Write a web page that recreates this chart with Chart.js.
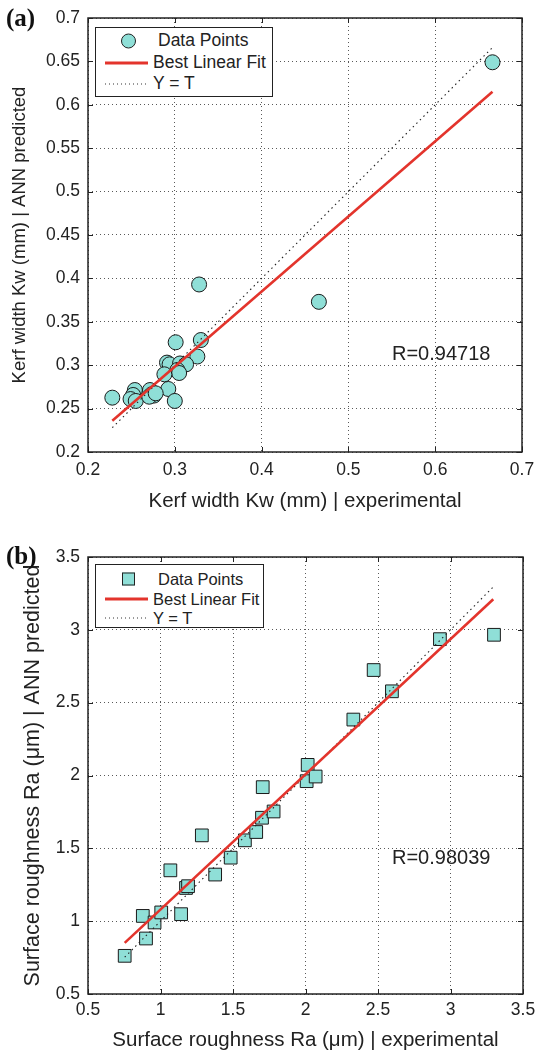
<!DOCTYPE html>
<html lang="en">
<head>
<meta charset="UTF-8">
<title>Kerf width e rugosidade - ANN</title>
<script src="https://cdn.jsdelivr.net/npm/chart.js"></script>
<style>
  body { margin: 0; background: #fff; }
  .pagina { position: relative; width: 535px; height: 1054px; overflow: hidden;
            font-family: "Liberation Sans", Arial, sans-serif; color: #222; }
  canvas { position: absolute; left: 0; }
  .letra { position: absolute; font-family: "Liberation Serif", serif; font-weight: bold;
           font-size: 25px; line-height: 26px; color: #111; }
  .rtexto { position: absolute; font-size: 20px; line-height: 22px; }
  .legenda { position: absolute; border: 1px solid #222; background: #fff; box-sizing: border-box; }
  .legenda span { position: absolute; transform: translateY(-50%); white-space: nowrap; line-height: 1; }
  .simb-circ { width: 13px; height: 13px; border: 1px solid #222; border-radius: 50%; background: #8fdfd7; }
  .simb-quad { width: 11px; height: 11px; border: 1px solid #222; background: #8fdfd7; }
  .simb-linha { height: 3px; background: #e3342c; }
  .simb-pont { height: 1px; background: repeating-linear-gradient(to right, #333 0 1px, transparent 1px 4px); }
</style>
</head>
<body>
<div class="pagina">
  <canvas id="graficoA" width="535" height="525" style="top:0"></canvas>
  <canvas id="graficoB" width="535" height="529" style="top:525px"></canvas>

  <div class="letra" style="left:6px; top:5px">(a)</div>
  <div class="letra" style="left:6px; top:543px">(b)</div>

  <!-- legenda (a) -->
  <div class="legenda" style="left:95px; top:27px; width:178px; height:70px; font-size:17.5px">
    <span class="simb-circ" style="left:25px; top:13px"></span>
    <span style="left:62px; top:13px">Data Points</span>
    <span class="simb-linha" style="left:9px; width:43px; top:35px"></span>
    <span style="left:57px; top:35px">Best Linear Fit</span>
    <span class="simb-pont" style="left:9px; width:43px; top:56px"></span>
    <span style="left:57px; top:56px">Y = T</span>
  </div>

  <!-- legenda (b) -->
  <div class="legenda" style="left:95px; top:564px; width:169px; height:64px; font-size:16.5px">
    <span class="simb-quad" style="left:26px; top:14px"></span>
    <span style="left:62px; top:14px">Data Points</span>
    <span class="simb-linha" style="left:9px; width:43px; top:34px"></span>
    <span style="left:57px; top:34px">Best Linear Fit</span>
    <span class="simb-pont" style="left:9px; width:43px; top:53px"></span>
    <span style="left:57px; top:53px">Y = T</span>
  </div>

  <div class="rtexto" style="left:392px; top:342px">R=0.94718</div>
  <div class="rtexto" style="left:392px; top:846px">R=0.98039</div>
</div>

<script>
  // ---- (a) Kerf width ----
  const kerfExp = [0.228, 0.301, 0.330, 0.326, 0.291, 0.294, 0.306, 0.313, 0.303, 0.305,
                   0.288, 0.2925, 0.300, 0.254, 0.252, 0.249, 0.255, 0.2714, 0.2734, 0.276,
                   0.2706, 0.278, 0.328, 0.466, 0.666];
  const kerfAnn = [0.2626, 0.3264, 0.329, 0.310, 0.303, 0.301, 0.302, 0.301, 0.2945, 0.291,
                   0.2895, 0.2726, 0.2588, 0.2714, 0.2657, 0.261, 0.2588, 0.2714, 0.2665, 0.265,
                   0.2637, 0.2676, 0.393, 0.373, 0.649];
  const kerfFitX = [0.228, 0.666];
  const kerfFitY = [0.236, 0.615];
  const kerfIdent = [0.228, 0.666];
  const kerfTicksX = [0.2, 0.3, 0.4, 0.5, 0.6, 0.7];
  const kerfTicksY = [0.2, 0.25, 0.3, 0.35, 0.4, 0.45, 0.5, 0.55, 0.6, 0.65, 0.7];

  // ---- (b) Rugosidade Ra ----
  const raExp = [0.753, 0.900, 0.878, 0.959, 1.005, 1.142, 1.068, 1.176, 1.190, 1.285,
                 1.377, 1.484, 1.582, 1.660, 1.700, 1.705, 1.780, 2.015, 2.008, 2.070,
                 2.330, 2.470, 2.596, 2.927, 3.300];
  const raAnn = [0.762, 0.881, 1.036, 0.991, 1.060, 1.048, 1.349, 1.228, 1.240, 1.589,
                 1.320, 1.436, 1.555, 1.612, 1.710, 1.920, 1.753, 2.073, 1.961, 1.993,
                 2.384, 2.724, 2.578, 2.936, 2.966];
  const raFitX = [0.753, 3.295];
  const raFitY = [0.851, 3.210];
  const raIdent = [0.753, 3.300];
  const raTicks = [0.5, 1, 1.5, 2, 2.5, 3, 3.5];

  const fonte = '"Liberation Sans", Arial, sans-serif';
  const corTexto = '#222';
  const corPonto = '#8fdfd7';
  const corFit = '#e3342c';

  const pares = (xs, ys) => xs.map((x, i) => ({ x: x, y: ys[i] }));
  const rotulo = v => String(+Number(v).toFixed(2));

  // moldura da caixa + marcas internas (estilo MATLAB)
  const moldura = {
    id: 'moldura',
    afterDraw(chart) {
      const { ctx, chartArea: a, scales } = chart;
      ctx.save();
      ctx.strokeStyle = '#222';
      ctx.lineWidth = 1;
      scales.x.ticks.forEach(t => {
        const px = Math.round(scales.x.getPixelForValue(t.value)) + 0.5;
        ctx.beginPath();
        ctx.moveTo(px, a.bottom); ctx.lineTo(px, a.bottom - 5);
        ctx.moveTo(px, a.top); ctx.lineTo(px, a.top + 5);
        ctx.stroke();
      });
      scales.y.ticks.forEach(t => {
        const py = Math.round(scales.y.getPixelForValue(t.value)) + 0.5;
        ctx.beginPath();
        ctx.moveTo(a.left, py); ctx.lineTo(a.left + 5, py);
        ctx.moveTo(a.right, py); ctx.lineTo(a.right - 5, py);
        ctx.stroke();
      });
      ctx.lineWidth = 1.5;
      ctx.strokeRect(a.left, a.top, a.right - a.left, a.bottom - a.top);
      ctx.restore();
    }
  };

  function eixo(min, max, valores, titulo, tam, pad, larguraOuAltura, horizontal, rotPad) {
    return {
      type: 'linear',
      min: min,
      max: max,
      afterBuildTicks: s => { s.ticks = valores.map(v => ({ value: v })); },
      afterFit: s => {
        if (horizontal) s.height = larguraOuAltura; else s.width = larguraOuAltura;
        // sem folga extra para rótulos nas pontas
        s.paddingLeft = 0; s.paddingRight = 0; s.paddingTop = 0; s.paddingBottom = 0;
      },
      ticks: {
        color: corTexto,
        font: { family: fonte, size: 17.5 },
        padding: rotPad,
        autoSkip: false,
        maxRotation: 0,
        callback: rotulo
      },
      grid: { color: 'rgba(0,0,0,0.65)', lineWidth: 1, drawTicks: false },
      border: { display: false, dash: [1, 3] },
      title: {
        display: true,
        text: titulo,
        color: corTexto,
        font: { family: fonte, size: tam },
        padding: pad
      }
    };
  }

  function criarGrafico(id, pontos, estilo, raio, fitX, fitY, ident, eixoX, eixoY, padding) {
    return new Chart(document.getElementById(id), {
      type: 'scatter',
      data: {
        datasets: [
          {
            label: 'Best Linear Fit',
            type: 'line',
            data: pares(fitX, fitY),
            borderColor: corFit,
            borderWidth: 2.6,
            pointRadius: 0,
            order: 1
          },
          {
            label: 'Y = T',
            type: 'line',
            data: pares(ident, ident),
            borderColor: '#222',
            borderWidth: 1.1,
            borderDash: [1.5, 3.5],
            pointRadius: 0,
            order: 2
          },
          {
            label: 'Data Points',
            data: pontos,
            pointStyle: estilo,
            pointRadius: raio,
            backgroundColor: corPonto,
            borderColor: '#1a1a1a',
            borderWidth: 1,
            order: 3
          }
        ]
      },
      options: {
        responsive: false,
        animation: false,
        layout: { padding: padding },
        plugins: { legend: { display: false }, tooltip: { enabled: false } },
        scales: { x: eixoX, y: eixoY }
      },
      plugins: [moldura]
    });
  }

  criarGrafico('graficoA', pares(kerfExp, kerfAnn), 'circle', 7.5, kerfFitX, kerfFitY, kerfIdent,
    eixo(0.2, 0.7, kerfTicksX, 'Kerf width Kw (mm) | experimental', 20.5, { top: 0, bottom: 11 }, 73, true, 8),
    eixo(0.2, 0.7, kerfTicksY, 'Kerf width Kw (mm) | ANN predicted', 18.5, { top: 9, bottom: 0 }, 88, false, 8),
    { top: 18, right: 13, left: 0, bottom: 0 });

  criarGrafico('graficoB', pares(raExp, raAnn), 'rect', 9, raFitX, raFitY, raIdent,
    eixo(0.5, 3.5, raTicks, 'Surface roughness Ra (μm) | experimental', 20.5, { top: 0, bottom: 1 }, 60, true, 6),
    eixo(0.5, 3.5, raTicks, 'Surface roughness Ra (μm) | ANN predicted', 21.5, { top: 20, bottom: 0 }, 88, false, 8),
    { top: 32, right: 12, left: 0, bottom: 0 });
</script>
</body>
</html>
